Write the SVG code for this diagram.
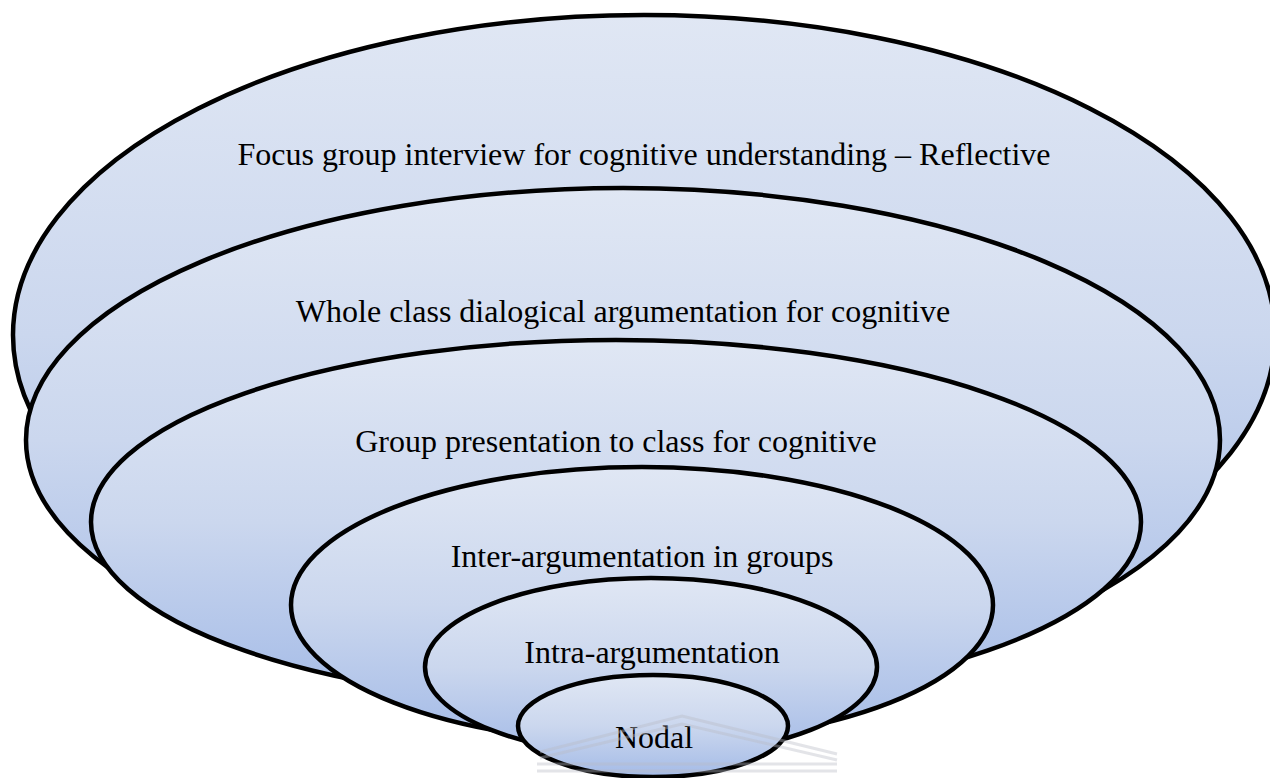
<svg xmlns="http://www.w3.org/2000/svg" width="1270" height="778" viewBox="0 0 1270 778">
  <defs>
    <linearGradient id="fillGrad" x1="0" y1="0" x2="0" y2="1">
      <stop offset="0" stop-color="#e0e7f4"/>
      <stop offset="0.5" stop-color="#cbd7ee"/>
      <stop offset="1" stop-color="#a4bbe7"/>
    </linearGradient>
  </defs>
  <style>
    .layer { fill: url(#fillGrad); stroke: #000000; stroke-width: 4.5; }
    .label { font-family: "Liberation Serif", "Times New Roman", serif; font-size: 32px; fill: #000000; text-anchor: middle; }
    .wm { fill: none; stroke: #b8bcc6; stroke-width: 3; opacity: 0.4; }
  </style>
  <rect width="1270" height="778" fill="#ffffff"/>
  <g id="connectors"></g>
  <g id="node-focus">
    <ellipse class="layer" cx="644" cy="335" rx="631" ry="320"/>
    <text class="label" x="644" y="165">Focus group interview for cognitive understanding – Reflective</text>
  </g>
  <g id="node-whole">
    <ellipse class="layer" cx="623" cy="440" rx="597" ry="252"/>
    <text class="label" x="623" y="322">Whole class dialogical argumentation for cognitive</text>
  </g>
  <g id="node-group">
    <ellipse class="layer" cx="616" cy="522" rx="525" ry="182"/>
    <text class="label" x="616" y="452">Group presentation to class for cognitive</text>
  </g>
  <g id="node-inter">
    <ellipse class="layer" cx="642" cy="605" rx="351" ry="138"/>
    <text class="label" x="642" y="567">Inter-argumentation in groups</text>
  </g>
  <g id="node-intra">
    <ellipse class="layer" cx="651" cy="667" rx="226" ry="89"/>
    <text class="label" x="652" y="663">Intra-argumentation</text>
  </g>
  <g id="node-nodal">
    <ellipse class="layer" cx="653" cy="726" rx="135" ry="51"/>
    <text class="label" x="654" y="748">Nodal</text>
  </g>
  <g id="watermark">
    <polyline class="wm" points="540,752 682,716 837,754"/>
    <polyline class="wm" points="540,758 682,724 837,760"/>
    <line class="wm" x1="537" y1="764" x2="837" y2="764"/>
    <line class="wm" x1="537" y1="771" x2="837" y2="771"/>
  </g>
</svg>
